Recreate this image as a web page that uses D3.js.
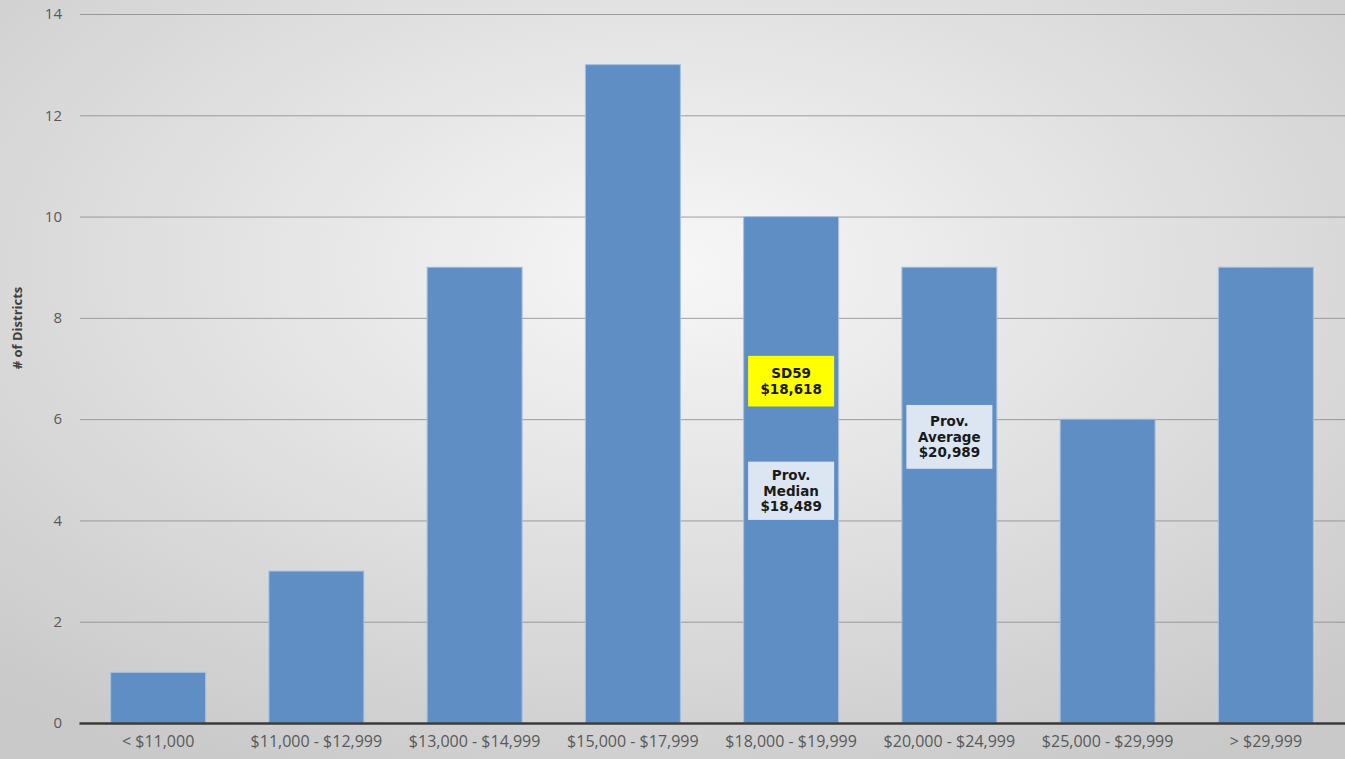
<!DOCTYPE html>
<html lang="en">
<head>
  <meta charset="utf-8">
  <title># of Districts</title>
  <script src="https://d3js.org/d3.v7.min.js"></script>
  <style>
    html, body { margin: 0; padding: 0; overflow: hidden; }
    body { width: 1345px; height: 759px; }
  </style>
</head>
<body>
<div id="chart"></div>
<script>
// categories and counts
var categories = ["< $11,000", "$11,000 - $12,999", "$13,000 - $14,999", "$15,000 - $17,999",
                  "$18,000 - $19,999", "$20,000 - $24,999", "$25,000 - $29,999", "> $29,999"];
var districts = [1, 3, 9, 13, 10, 9, 6, 9];
var yTicks = [0, 2, 4, 6, 8, 10, 12, 14];

// callout boxes: category they sit on, top / bottom in axis units, lines of text
var noteCats = ["$18,000 - $19,999", "$18,000 - $19,999", "$20,000 - $24,999"];
var noteTop = [7.25, 5.16, 6.28];
var noteBottom = [6.25, 4.01, 5.02];
var noteLines = [["SD59", "$18,618"], ["Prov.", "Median", "$18,489"], ["Prov.", "Average", "$20,989"]];
var noteFill = ["#ffff00", "#dce6f2", "#dce6f2"];

var W = 1345, H = 759;
var margin = {top: 14, right: 0, bottom: 36, left: 79};

var svg = d3.select("#chart").append("svg")
  .attr("width", W)
  .attr("height", H);

// soft grey background, lighter toward the middle
var defs = svg.append("defs");
var grad = defs.append("radialGradient")
  .attr("id", "bg")
  .attr("cx", "50%").attr("cy", "35%").attr("r", "75%");
grad.append("stop").attr("offset", "0%").attr("stop-color", "#f7f7f7");
grad.append("stop").attr("offset", "100%").attr("stop-color", "#c9c9c9");
svg.append("rect").attr("width", W).attr("height", H).attr("fill", "url(#bg)");

var x = d3.scaleBand()
  .domain(categories)
  .range([margin.left, W - margin.right])
  .paddingInner(0.4)
  .paddingOuter(0.2);

var y = d3.scaleLinear()
  .domain([0, 14])
  .range([H - margin.bottom, margin.top]);

// gridlines
svg.append("g")
  .selectAll("line")
  .data(yTicks.slice(1))
  .join("line")
    .attr("x1", margin.left + 1)
    .attr("x2", W)
    .attr("y1", function(d) { return y(d) + 0.5; })
    .attr("y2", function(d) { return y(d) + 0.5; })
    .attr("stroke", "#8a8a8a")
    .attr("stroke-opacity", 0.8)
    .attr("stroke-width", 1);

// y axis labels
var yAxis = svg.append("g")
  .attr("transform", "translate(" + margin.left + ",0)")
  .call(d3.axisLeft(y).tickValues(yTicks).tickSize(0).tickPadding(17));
yAxis.select(".domain").remove();
yAxis.selectAll("text")
  .attr("font-family", "'Open Sans', sans-serif")
  .attr("font-size", 15)
  .attr("fill", "#595959");

// bars
svg.append("g")
  .selectAll("rect")
  .data(districts)
  .join("rect")
    .attr("x", function(d, i) { return x(categories[i]); })
    .attr("y", function(d) { return y(d); })
    .attr("width", x.bandwidth())
    .attr("height", function(d) { return y(0) - y(d); })
    .attr("fill", "#5f8ec4")
    .attr("stroke", "#a7c0de")
    .attr("stroke-width", 1);

// x axis
var xAxis = svg.append("g")
  .attr("transform", "translate(0," + y(0) + ")")
  .call(d3.axisBottom(x).tickSize(0).tickPadding(13));
xAxis.select(".domain")
  .attr("stroke", "#3a3a3a")
  .attr("stroke-width", 2.5);
xAxis.selectAll("text")
  .attr("font-family", "'Open Sans', sans-serif")
  .attr("font-size", 16)
  .attr("fill", "#595959");

// y axis title
svg.append("text")
  .attr("transform", "translate(22," + y(7.8) + ") rotate(-90)")
  .attr("text-anchor", "middle")
  .attr("font-family", "'Open Sans', sans-serif")
  .attr("font-weight", "bold")
  .attr("font-size", 13)
  .attr("fill", "#404040")
  .text("# of Districts");

// callouts
var notes = svg.append("g")
  .selectAll("g")
  .data(noteLines)
  .join("g");

notes.append("rect")
  .attr("x", function(d, i) { return x(noteCats[i]) + x.bandwidth() / 2 - 43; })
  .attr("y", function(d, i) { return y(noteTop[i]); })
  .attr("width", 86)
  .attr("height", function(d, i) { return y(noteBottom[i]) - y(noteTop[i]); })
  .attr("fill", function(d, i) { return noteFill[i]; });

notes.each(function(lines, i) {
  var cx = x(noteCats[i]) + x.bandwidth() / 2;
  var top = y(noteTop[i]), bottom = y(noteBottom[i]);
  var lh = 15.5;
  var y0 = (top + bottom) / 2 - (lines.length - 1) * lh / 2 + 5;
  d3.select(this).selectAll("text")
    .data(lines)
    .join("text")
      .attr("x", cx)
      .attr("y", function(t, j) { return y0 + j * lh; })
      .attr("text-anchor", "middle")
      .attr("font-family", "'DejaVu Sans', Verdana, sans-serif")
      .attr("font-weight", "bold")
      .attr("font-size", 13.5)
      .attr("fill", "#1a1a1a")
      .text(function(t) { return t; });
});
</script>
</body>
</html>
